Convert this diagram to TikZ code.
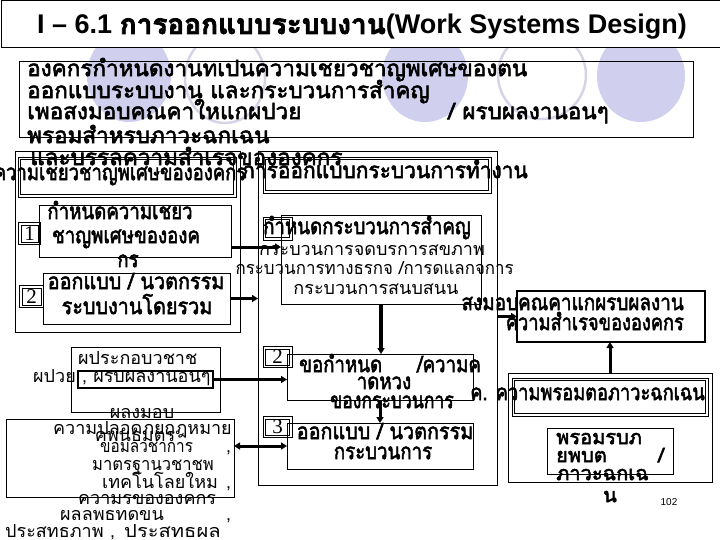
\documentclass[tikz,border=0pt]{standalone}
\usepackage{fontspec}
\usetikzlibrary{arrows.meta}
\newfontfamily\thai[Script=Thai]{Loma}
\newfontfamily\thaib[Script=Thai,FakeBold=2.5]{Loma}
\newfontfamily\lsans{Liberation Sans}
\newfontfamily\lserif{Liberation Serif}
\newcommand\cz[2][0.83]{\scalebox{#1}[1]{#2}}
\newcommand\dbl[1]{\draw[line width=0.6pt] ([shift={(2.4,2.4)}]#1.north west) rectangle ([shift={(-2.4,-2.4)}]#1.south east);}
\definecolor{lav}{RGB}{208,208,238}
\definecolor{lavline}{RGB}{212,212,230}
\begin{document}
\begin{tikzpicture}[x=1pt,y=-1pt,
  box/.style={draw, line width=0.8pt, inner sep=0pt, outer sep=0pt},
  dbox/.style={draw, line width=0.6pt, inner sep=0pt, outer sep=0pt},
  tb/.style={font=\thaib\fontsize{22.5}{22.5}\selectfont, inner sep=0pt},
  tbs/.style={font=\thaib\fontsize{20}{20}\selectfont, inner sep=0pt},
  tr/.style={font=\thai\fontsize{18}{18}\selectfont, inner sep=0pt},
  num/.style={font=\lserif\fontsize{21}{21}\selectfont, inner sep=0pt},
  arr/.style={line width=3pt, -{Triangle[length=6pt,width=7pt]}},
  darr/.style={line width=3pt, {Triangle[length=6pt,width=7pt]}-{Triangle[length=6pt,width=7pt]}},
]
\useasboundingbox (0,0) rectangle (720,540);
% background circles
\fill[lav] (129,76) ellipse [x radius=42pt, y radius=46pt];
\draw[lavline, line width=2.5pt] (225,78) ellipse [x radius=40pt, y radius=45pt];
\fill[lav] (425,76) ellipse [x radius=43pt, y radius=46pt];
\draw[lavline, line width=2.5pt] (542,75) ellipse [x radius=44pt, y radius=44pt];
\fill[lav] (641,76) ellipse [x radius=44pt, y radius=46pt];
% title
\node[box, fill=white, minimum width=719pt, minimum height=46.5pt] (title) at (360.5,23.75) {};
\node[anchor=base west, inner sep=0pt, font=\lsans\bfseries\fontsize{27}{27}\selectfont] (tt) at (37,34) {I – 6.1 {\thaib\fontsize{28}{28}\selectfont การออกแบบระบบงาน}(Work Systems Design)};
% boxes
\node[box, minimum width=674pt, minimum height=76pt] (main) at (356,99) {};
\node[box, minimum width=225pt, minimum height=181pt] (leftC) at (127.5,241.5) {};
\node[dbox, minimum width=218pt, minimum height=40pt] (leftH) at (127,177) {};
\node[box, minimum width=239pt, minimum height=334pt] (midC) at (377.5,318) {};
\node[dbox, minimum width=228pt, minimum height=36pt] (midH) at (377,175) {};
\node[box, minimum width=192pt, minimum height=52pt] (b1) at (135,231) {};
\node[dbox, minimum width=22pt, minimum height=22pt] (n1) at (29.5,233.5) {};
\node[box, minimum width=187pt, minimum height=51pt] (b2) at (136.5,298.5) {};
\node[dbox, minimum width=24pt, minimum height=22pt] (n2L) at (31.5,296.5) {};
\node[box, minimum width=200pt, minimum height=89pt] (proc) at (381,259.5) {};
\node[dbox, minimum width=29pt, minimum height=23pt] (nP) at (277.5,228.5) {};
\node[box, minimum width=186pt, minimum height=46pt] (req) at (380,377) {};
\node[dbox, minimum width=29pt, minimum height=21pt] (n2) at (277.5,357) {};
\node[box, minimum width=186pt, minimum height=46pt] (b3) at (380,446) {};
\node[dbox, minimum width=29pt, minimum height=21pt] (n3) at (277.5,427) {};
\node[box, line width=2.8pt, minimum width=188pt, minimum height=51pt] (out) at (611,316.5) {};
\node[box, minimum width=204pt, minimum height=109pt] (emC) at (610,427.5) {};
\node[dbox, minimum width=196pt, minimum height=38pt] (emH) at (610,397) {};
\node[box, minimum width=126pt, minimum height=46pt] (emI) at (610,451) {};
\node[box, minimum width=149pt, minimum height=65pt] (stk) at (145.5,379.5) {};
\node[box, line width=2pt, minimum width=135pt, minimum height=17pt] (stkI) at (145.5,379.5) {};
\node[box, minimum width=228pt, minimum height=78pt] (big) at (120,458) {};
\dbl{leftH}\dbl{midH}\dbl{n1}\dbl{n2L}\dbl{nP}\dbl{n2}\dbl{n3}\dbl{emH}
% digits
\node[num] (d1) at (n1) {1};
\node[num] (d2L) at (n2L) {2};
\node[num] (d2) at (n2) {2};
\node[num] (d3) at (n3) {3};
% connectors
\coordinate (a1) at (0,247);
\draw[arr] (b1.east |- a1) -- (proc.west |- a1);
\draw[arr] (b2.east) -- (midC.west |- b2.east);
\draw[arr, line width=3.5pt] (proc.south) -- (proc.south |- req.north);
\draw[arr] (req.south) -- (b3.north);
\draw[arr] (midC.east |- out.west) -- (out.west);
\draw[arr] (emC.north) -- (emC.north |- out.south);
\draw[arr] (stkI.east) -- (req.west |- stkI.east);
\draw[darr] (big.east |- b3.west) -- (b3.west);
% main statement
\node[tb, anchor=mid west] (m1) at (27,74) {องคกรกำหนดงานทเปนความเชยวชาญพเศษของตน};
\node[tb, anchor=mid west] (m2) at (27,96) {ออกแบบระบบงาน และกระบวนการสำคญ};
\node[tb, anchor=mid west] (m3) at (27,117) {เพอสงมอบคณคาใหแกผปวย};
\node[tb, anchor=mid west] (m3b) at (448,117) {/ ผรบผลงานอนๆ};
\node[tb, anchor=mid west] (m4) at (27,141) {พรอมสำหรบภาวะฉกเฉน};
\node[tb, anchor=mid west] (m5) at (30,163) {และบรรลความสำเรจขององคกร};
% headers
\node[tb, anchor=mid] (hL) at (120,178) {\cz[0.82]{ความเชยวชาญพเศษขององคกร}};
\node[tb, anchor=mid] (hM) at (385,176) {\cz[0.93]{การออกแบบกระบวนการทำงาน}};
% box 1, 2
\node[tb, anchor=mid] (b1a) at (120,217) {\cz{กำหนดความเชยว}};
\node[tb, anchor=mid] (b1b) at (126,241) {\cz{ชาญพเศษขององค}};
\node[tb, anchor=mid] (b1c) at (128,265) {\cz{กร}};
\node[tb, anchor=mid] (b2a) at (136,287) {\cz[0.88]{ออกแบบ / นวตกรรม}};
\node[tb, anchor=mid] (b2b) at (137,312) {\cz[0.88]{ระบบงานโดยรวม}};
% process box
\node[tb, anchor=mid west] (pa) at (263,232) {\cz{กำหนดกระบวนการสำคญ}};
\node[tr, anchor=mid] (pb) at (372,253) {กระบวนการจดบรการสขภาพ};
\node[tr, anchor=mid east] (pc) at (514,272) {\cz[0.94]{กระบวนการทางธรกจ /การดแลกจการ}};
\node[tr, anchor=mid] (pd) at (376,292) {กระบวนการสนบสนน};
% output box
\node[tb, anchor=mid east] (oa) at (684,308) {\cz[0.84]{สงมอบคณคาแกผรบผลงาน}};
\node[tb, anchor=mid east] (ob) at (684,328) {\cz[0.81]{ความสำเรจขององคกร}};
% requirements box
\node[tb, anchor=mid west] (ra) at (299,370) {\cz{ขอกำหนด}};
\node[tb, anchor=mid west] (rb) at (417,370) {\cz{/ความค}};
\node[tb, anchor=mid] (rc) at (384,387) {\cz{าดหวง}};
\node[tb, anchor=mid] (rd) at (392,406) {\cz[0.78]{ของกระบวนการ}};
% box 3
\node[tb, anchor=mid] (ta) at (385,437) {\cz[0.88]{ออกแบบ / นวตกรรม}};
\node[tb, anchor=mid] (tbb) at (383,457) {\cz{กระบวนการ}};
% emergency
\node[tb, anchor=mid east] (ea) at (705,398) {\cz[0.81]{ค. ความพรอมตอภาวะฉกเฉน}};
\node[tbs, anchor=mid west] (eb) at (556,442) {พรอมรบภ};
\node[tbs, anchor=mid west] (ec) at (556,460) {ยพบต};
\node[tbs, anchor=mid west] (ed) at (658,460) {/};
\node[tbs, anchor=mid west] (ee) at (556,478) {ภาวะฉกเฉ};
\node[tbs, anchor=mid] (ef) at (610,500) {น};
\node[font=\lsans\fontsize{10}{10}\selectfont, inner sep=0pt] (pg) at (669,502) {102};
% stakeholders
\node[tr, anchor=mid west] (sa) at (78,362) {ผประกอบวชาช};
\node[tr, anchor=mid west] (sb) at (33,380) {ผปวย};
\node[tr, anchor=mid west] (sc) at (82,380) {, ผรบผลงานอนๆ};
% big left box
\node[tr, anchor=mid] (ga) at (142,416) {ผลงมอบ};
\node[tr, anchor=mid west] (gb) at (53,432) {ความปลอดภย};
\node[tr, anchor=mid west] (gb2) at (168,432) {,};
\node[tr, anchor=mid east] (gb3) at (232,432) {กฎหมาย};
\node[tr, anchor=mid] (gc) at (135,439) {คพนธมตร};
\node[tr, anchor=mid west] (gd) at (100,450) {\cz[0.85]{ขอมลวชาการ}};
\node[tr, anchor=mid west] (gd2) at (226,450) {,};
\node[tr, anchor=mid west] (ge) at (92,468) {\cz[0.92]{มาตรฐานวชาชพ}};
\node[tr, anchor=mid west] (gf) at (102,486) {เทคโนโลยใหม};
\node[tr, anchor=mid west] (gf2) at (226,486) {,};
\node[tr, anchor=mid west] (gg) at (78,502) {ความรขององคกร};
\node[tr, anchor=mid west] (gh) at (60,518) {ผลลพธทดขน};
\node[tr, anchor=mid west] (gh2) at (226,518) {,};
\node[tr, anchor=mid west] (gi) at (5,535) {ประสทธภาพ};
\node[tr, anchor=mid west] (gi2) at (110,535) {,};
\node[tr, anchor=mid west] (gi3) at (124,535) {\cz[1.12]{ประสทธผล}};
\end{tikzpicture}
\end{document}
